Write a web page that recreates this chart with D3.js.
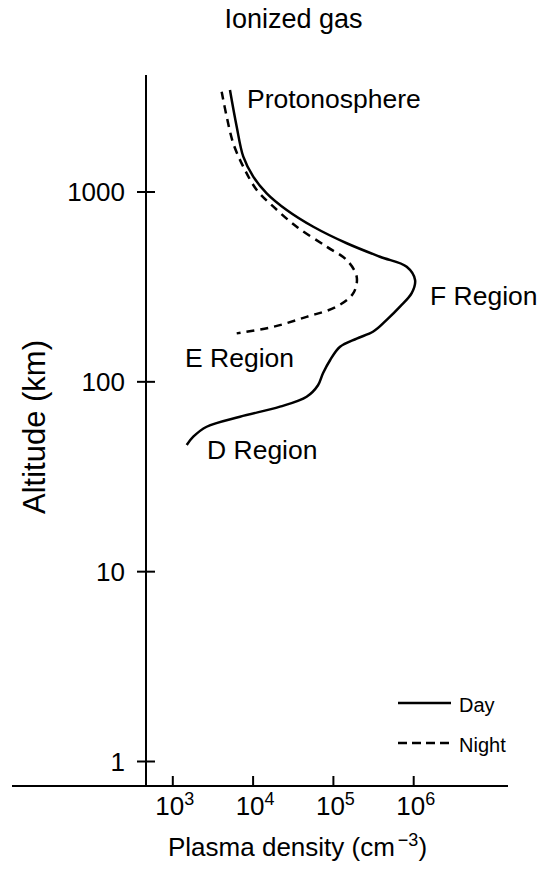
<!DOCTYPE html>
<html><head><meta charset="utf-8">
<script src="https://cdn.jsdelivr.net/npm/d3@7"></script>
<style>html,body{margin:0;padding:0;background:#fff;}svg{display:block;font-family:"Liberation Sans",Arial,sans-serif;}</style>
</head><body>
<script>
// Data (density in cm^-3, altitude in km)
const dayDensity = [5150, 6250, 7550, 10040, 14760, 26200, 56200, 146500, 380000, 818000, 1040000, 944000, 675000, 461000, 314000, 195000, 121000, 90800, 74200, 64300, 46400, 21600, 6870, 2640, 1800, 1490];
const dayAltitude = [3446, 2208, 1535, 1205, 984, 804, 656, 537, 456, 404, 344, 293, 249, 212, 184, 169, 153, 130, 111, 96, 83.5, 74, 65.5, 58, 51.4, 46.5];
const nightDensity = [4060, 4690, 5660, 7550, 11100, 17900, 34900, 82600, 146500, 195000, 177000, 110000, 46400, 17900, 6250];
const nightAltitude = [3377, 2494, 1806, 1359, 1025, 837, 656, 515, 438, 358, 293, 249, 220, 195, 180];
const yTicks = [1, 10, 100, 1000];
const yTickLabels = ["1", "10", "100", "1000"];
const xTicks = [1e3, 1e4, 1e5, 1e6];
const xTickExps = ["3", "4", "5", "6"];
const regionLabels = ["Protonosphere", "F Region", "E Region", "D Region"];
const legendNames = ["Day", "Night"];

const W = 541, H = 870;
const svg = d3.select("body").append("svg").attr("width", W).attr("height", H);

const x = d3.scaleLog().domain([1e3, 1e6]).range([172.8, 413.7]);
const y = d3.scaleLog().domain([1, 1000]).range([761.5, 192]);

const axisX = 146, axisY = 786;

// title
svg.append("text").attr("x", 293.5).attr("y", 28).attr("text-anchor", "middle")
  .attr("font-size", 27).text("Ionized gas");

// y axis line
svg.append("line").attr("x1", axisX).attr("x2", axisX).attr("y1", 75).attr("y2", axisY)
  .attr("stroke", "#000").attr("stroke-width", 2);
// x axis line
svg.append("line").attr("x1", 12).attr("x2", 508).attr("y1", axisY).attr("y2", axisY)
  .attr("stroke", "#000").attr("stroke-width", 2);

// y ticks
const yt = svg.append("g");
yTicks.forEach((t, i) => {
  yt.append("line").attr("x1", axisX - 9).attr("x2", axisX + 9).attr("y1", y(t)).attr("y2", y(t))
    .attr("stroke", "#000").attr("stroke-width", 2);
  yt.append("text").attr("x", axisX - 21).attr("y", y(t)).attr("dy", "0.36em")
    .attr("text-anchor", "end").attr("font-size", 26).text(yTickLabels[i]);
});

// x ticks
const xt = svg.append("g");
xTicks.forEach((t, i) => {
  xt.append("line").attr("x1", x(t)).attr("x2", x(t)).attr("y1", axisY).attr("y2", axisY - 10)
    .attr("stroke", "#000").attr("stroke-width", 2);
  const tx = xt.append("text").attr("x", x(t) + 2).attr("y", 815).attr("text-anchor", "middle").attr("font-size", 26);
  tx.append("tspan").text("10");
  tx.append("tspan").attr("font-size", 18).attr("dy", -10).text(xTickExps[i]);
});

// axis titles
const xl = svg.append("text").attr("x", 168).attr("y", 856).attr("font-size", 26);
xl.append("tspan").text("Plasma density (cm");
xl.append("tspan").attr("font-size", 18).attr("dx", 3).attr("dy", -10).text("\u22123");
xl.append("tspan").attr("dy", 10).text(")");

svg.append("text").attr("transform", "translate(45,427) rotate(-90)").attr("text-anchor", "middle")
  .attr("font-size", 31).text("Altitude (km)");

// curves
const line = d3.line().x(d => x(d[0])).y(d => y(d[1])).curve(d3.curveCatmullRom.alpha(0.5));
const day = dayDensity.map((d, i) => [d, dayAltitude[i]]);
const night = nightDensity.map((d, i) => [d, nightAltitude[i]]);
svg.append("path").attr("d", line(day)).attr("fill", "none").attr("stroke", "#000").attr("stroke-width", 2.5);
svg.append("path").attr("d", line(night)).attr("fill", "none").attr("stroke", "#000").attr("stroke-width", 2.5)
  .attr("stroke-dasharray", "8,6");

// region labels
const regionPos = [[247, 108], [430, 305], [185, 367], [207, 459]];
regionLabels.forEach((lab, i) => {
  svg.append("text").attr("x", regionPos[i][0]).attr("y", regionPos[i][1]).attr("font-size", 26.5).text(lab);
});

// legend
const lg = svg.append("g");
legendNames.forEach((n, i) => {
  const ly = 703 + i * 40;
  lg.append("line").attr("x1", 398).attr("x2", 451).attr("y1", ly).attr("y2", ly)
    .attr("stroke", "#000").attr("stroke-width", 2.5).attr("stroke-dasharray", i ? "9,5" : null);
  lg.append("text").attr("x", 459).attr("y", ly + 9).attr("font-size", 20).text(n);
});
</script>
</body></html>
